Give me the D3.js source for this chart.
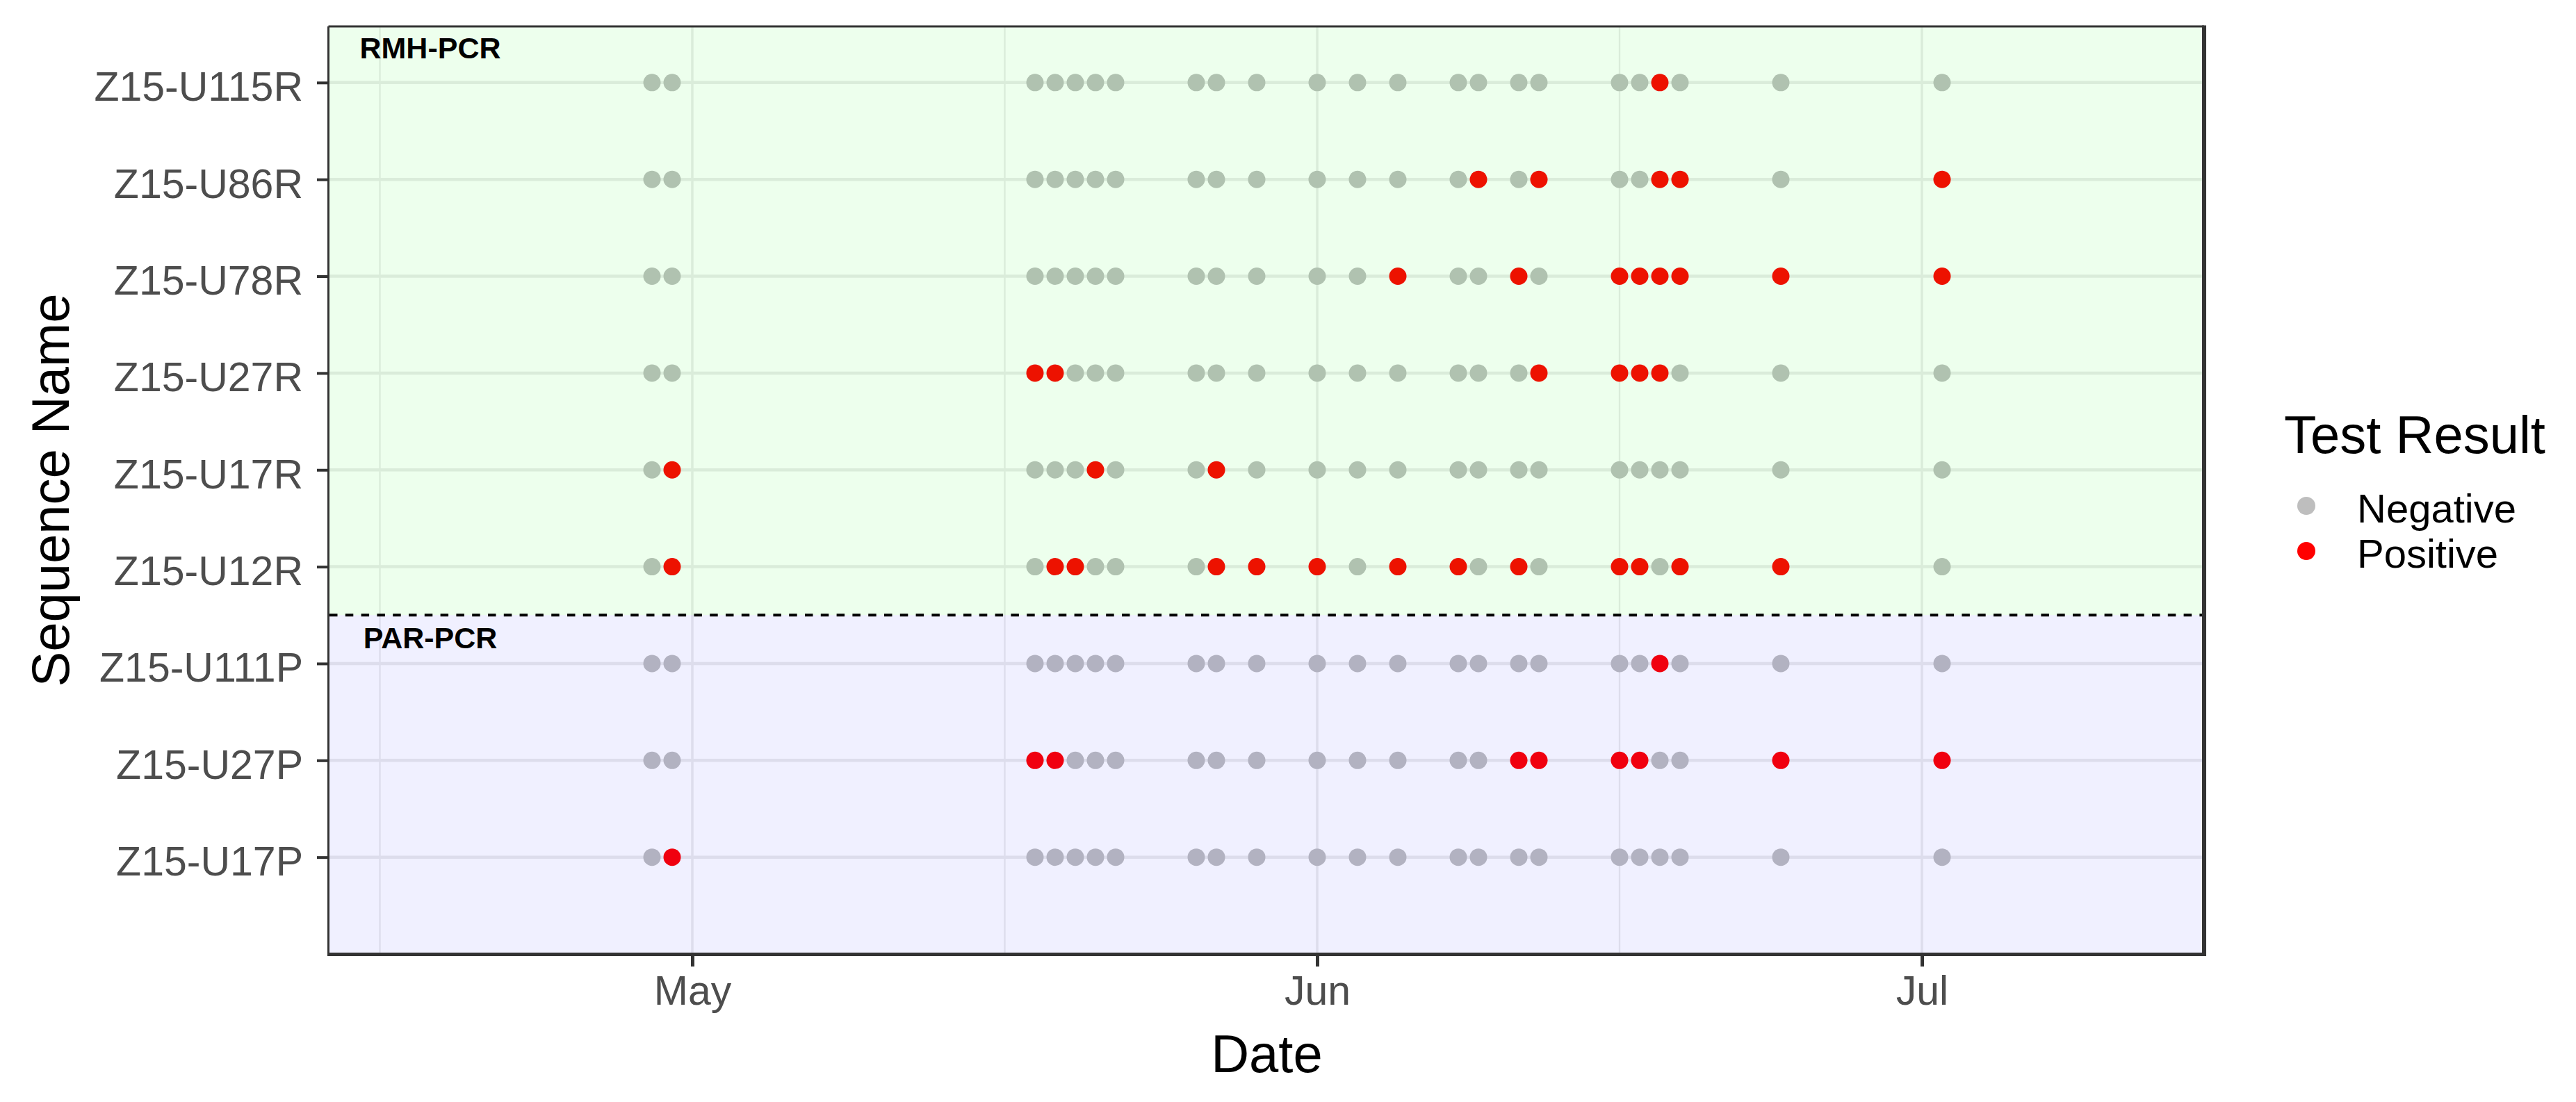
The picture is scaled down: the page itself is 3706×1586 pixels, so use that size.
<!DOCTYPE html>
<html>
<head>
<meta charset="utf-8">
<script src="https://cdn.jsdelivr.net/npm/d3@7"></script>
<style>
    body { margin: 0; background: #ffffff; }
    text { font-family: "Liberation Sans", Arial, sans-serif; }
</style>
</head>
<body>
<script>
"use strict";

// sequences, top row first
const sequences = ["Z15-U115R", "Z15-U86R", "Z15-U78R", "Z15-U27R", "Z15-U17R", "Z15-U12R",
    "Z15-U111P", "Z15-U27P", "Z15-U17P"];
const rmhSequences = ["Z15-U115R", "Z15-U86R", "Z15-U78R", "Z15-U27R", "Z15-U17R", "Z15-U12R"];
const parSequences = ["Z15-U111P", "Z15-U27P", "Z15-U17P"];

// every sequence was tested on each of these days
const testDates = ["2015-04-29", "2015-04-30",
    "2015-05-18", "2015-05-19", "2015-05-20", "2015-05-21", "2015-05-22",
    "2015-05-26", "2015-05-27", "2015-05-29",
    "2015-06-01", "2015-06-03", "2015-06-05", "2015-06-08", "2015-06-09",
    "2015-06-11", "2015-06-12", "2015-06-16", "2015-06-17", "2015-06-18", "2015-06-19",
    "2015-06-24", "2015-07-02"];

// days with a positive result, same order as sequences
const positiveDates = [
    ["2015-06-18"],
    ["2015-06-09", "2015-06-12", "2015-06-18", "2015-06-19", "2015-07-02"],
    ["2015-06-05", "2015-06-11", "2015-06-16", "2015-06-17", "2015-06-18", "2015-06-19", "2015-06-24", "2015-07-02"],
    ["2015-05-18", "2015-05-19", "2015-06-12", "2015-06-16", "2015-06-17", "2015-06-18"],
    ["2015-04-30", "2015-05-21", "2015-05-27"],
    ["2015-04-30", "2015-05-19", "2015-05-20", "2015-05-27", "2015-05-29", "2015-06-01", "2015-06-05",
        "2015-06-08", "2015-06-11", "2015-06-16", "2015-06-17", "2015-06-19", "2015-06-24"],
    ["2015-06-18"],
    ["2015-05-18", "2015-05-19", "2015-06-11", "2015-06-12", "2015-06-16", "2015-06-17", "2015-06-24", "2015-07-02"],
    ["2015-04-30"]
];

const resultLabels = ["Negative", "Positive"];
const resultColors = ["#bebebe", "#ff0000"];
const panelLabels = ["RMH-PCR", "PAR-PCR"];
const dateLimits = ["2015-04-13", "2015-07-15"];
const labelDate = "2015-04-18";

const parseDate = d3.timeParse("%Y-%m-%d");

// dimensions for svg
const measurements = {
    width: 3706,
    height: 1586,
    left: 474,
    right: 3171,
    top: 38,
    bottom: 1373
};

// build a row for each test
const rows = [];
sequences.forEach(function (name, i) {
    testDates.forEach(function (d) {
        rows.push({
            name: name,
            date: parseDate(d),
            result: positiveDates[i].includes(d) ? "Positive" : "Negative"
        });
    });
});

const svgContainer = d3.select("body").append("svg")
    .attr("width", measurements.width)
    .attr("height", measurements.height);

const scaleX = d3.scaleTime()
    .domain(dateLimits.map(parseDate))
    .range([measurements.left, measurements.right]);

// bottom row is index 0, discrete axis with a bit of room
const rowIndex = function (name) { return sequences.length - 1 - sequences.indexOf(name) };
const scaleY = d3.scaleLinear()
    .domain([-1, sequences.length - 0.42])
    .range([measurements.bottom, measurements.top]);

const scaleColor = d3.scaleOrdinal().domain(resultLabels).range(resultColors);

const plotWidth = measurements.right - measurements.left;
const plotHeight = measurements.bottom - measurements.top;

// panel background
svgContainer.append("rect")
    .attr("x", measurements.left).attr("y", measurements.top)
    .attr("width", plotWidth).attr("height", plotHeight)
    .attr("fill", "#ffffff");

// grid lines
const majorTicks = scaleX.ticks(d3.timeMonth.every(1));
const step = majorTicks[1] - majorTicks[0];
const extended = [new Date(+majorTicks[0] - step)].concat(majorTicks, [new Date(+majorTicks[majorTicks.length - 1] + step)]);
const minorTicks = [];
for (let i = 0; i < extended.length - 1; i++) {
    const mid = new Date((+extended[i] + +extended[i + 1]) / 2);
    if (mid > scaleX.domain()[0] && mid < scaleX.domain()[1]) minorTicks.push(mid);
}

const grid = svgContainer.append("g");
grid.selectAll(".minor").data(minorTicks).enter().append("line")
    .attr("x1", scaleX).attr("x2", scaleX)
    .attr("y1", measurements.top).attr("y2", measurements.bottom)
    .attr("stroke", "#ebebeb").attr("stroke-width", 2.3);
grid.selectAll(".major").data(majorTicks).enter().append("line")
    .attr("x1", scaleX).attr("x2", scaleX)
    .attr("y1", measurements.top).attr("y2", measurements.bottom)
    .attr("stroke", "#ebebeb").attr("stroke-width", 3.5);
grid.selectAll(".hline").data(sequences).enter().append("line")
    .attr("x1", measurements.left).attr("x2", measurements.right)
    .attr("y1", (d) => scaleY(rowIndex(d))).attr("y2", (d) => scaleY(rowIndex(d)))
    .attr("stroke", "#ebebeb").attr("stroke-width", 4.5);

// points
svgContainer.append("g").selectAll("circle")
    .data(rows)
    .enter()
    .append("circle")
    .attr("cx", (d) => scaleX(d.date))
    .attr("cy", (d) => scaleY(rowIndex(d.name)))
    .attr("r", 12.5)
    .attr("fill", (d) => scaleColor(d.result));

// tinted regions drawn over the points, split below the last RMH row
const split = rowIndex(rmhSequences[rmhSequences.length - 1]) - 0.5;
svgContainer.append("rect")
    .attr("x", measurements.left).attr("width", plotWidth)
    .attr("y", measurements.top).attr("height", scaleY(split) - measurements.top)
    .attr("fill", "#00ff00").attr("fill-opacity", 0.072);
svgContainer.append("rect")
    .attr("x", measurements.left).attr("width", plotWidth)
    .attr("y", scaleY(split)).attr("height", measurements.bottom - scaleY(split))
    .attr("fill", "#0000ff").attr("fill-opacity", 0.06);

svgContainer.append("line")
    .attr("x1", measurements.left).attr("x2", measurements.right)
    .attr("y1", scaleY(split)).attr("y2", scaleY(split))
    .attr("stroke", "#000000").attr("stroke-width", 4)
    .attr("stroke-dasharray", "11.5,11.3");

// panel labels
const labelY = [rowIndex(rmhSequences[0]) + 0.36, rowIndex(parSequences[0]) + 0.27];
svgContainer.append("g").selectAll("text")
    .data(panelLabels)
    .enter()
    .append("text")
    .attr("x", scaleX(parseDate(labelDate)))
    .attr("y", (d, i) => scaleY(labelY[i]))
    .attr("dy", "0.36em")
    .attr("text-anchor", "middle")
    .attr("font-size", 43)
    .attr("font-weight", "bold")
    .attr("fill", "#000000")
    .text((d) => d);

// axes
const xAxis = d3.axisBottom(scaleX)
    .tickValues(majorTicks)
    .tickFormat(d3.timeFormat("%b"))
    .tickSize(18)
    .tickSizeOuter(0)
    .tickPadding(13);

const xAxisG = svgContainer.append("g")
    .attr("transform", "translate(0," + measurements.bottom + ")")
    .call(xAxis);
xAxisG.select(".domain").remove();
xAxisG.selectAll("line").attr("stroke", "#333333").attr("stroke-width", 5);
xAxisG.selectAll("text")
    .attr("font-size", 59).attr("fill", "#4d4d4d")
    .attr("font-family", "Liberation Sans, Arial, sans-serif");

const yAxis = d3.axisLeft(scaleY)
    .tickValues(sequences.map(rowIndex))
    .tickFormat((d) => sequences[sequences.length - 1 - d])
    .tickSize(18)
    .tickSizeOuter(0)
    .tickPadding(20);

const yAxisG = svgContainer.append("g")
    .attr("transform", "translate(" + measurements.left + ",0)")
    .call(yAxis);
yAxisG.select(".domain").remove();
yAxisG.selectAll("line").attr("stroke", "#333333").attr("stroke-width", 4);
yAxisG.selectAll("text")
    .attr("dy", "0.44em")
    .attr("font-size", 59).attr("fill", "#4d4d4d")
    .attr("font-family", "Liberation Sans, Arial, sans-serif");

// panel border
const border = svgContainer.append("g").attr("stroke", "#333333").attr("fill", "none");
border.append("line").attr("x1", measurements.left - 1.5).attr("x2", measurements.right)
    .attr("y1", measurements.top).attr("y2", measurements.top).attr("stroke-width", 3);
border.append("line").attr("x1", measurements.left - 1.5).attr("x2", measurements.left - 1.5)
    .attr("y1", measurements.top).attr("y2", measurements.bottom).attr("stroke-width", 3);
border.append("line").attr("x1", measurements.right).attr("x2", measurements.right)
    .attr("y1", measurements.top - 1.5).attr("y2", measurements.bottom + 3).attr("stroke-width", 6);
border.append("line").attr("x1", measurements.left - 3).attr("x2", measurements.right + 3)
    .attr("y1", measurements.bottom + 0.5).attr("y2", measurements.bottom + 0.5).attr("stroke-width", 5);

// axis titles
svgContainer.append("text")
    .attr("x", (measurements.left + measurements.right) / 2)
    .attr("y", 1543)
    .attr("text-anchor", "middle")
    .attr("font-size", 76)
    .text("Date");

svgContainer.append("text")
    .attr("transform", "translate(99," + (measurements.top + measurements.bottom) / 2 + ") rotate(-90)")
    .attr("text-anchor", "middle")
    .attr("font-size", 76)
    .text("Sequence Name");

// legend
const legend = svgContainer.append("g");
legend.append("text")
    .attr("x", 3286).attr("y", 652)
    .attr("font-size", 76)
    .text("Test Result");

const keys = legend.selectAll(".key")
    .data(resultLabels)
    .enter()
    .append("g")
    .attr("transform", (d, i) => "translate(3318," + (728 + i * 65) + ")");
keys.append("circle")
    .attr("r", 13)
    .attr("fill", (d) => scaleColor(d));
keys.append("text")
    .attr("x", 73).attr("y", 24)
    .attr("font-size", 58)
    .text((d) => d);
</script>
</body>
</html>
